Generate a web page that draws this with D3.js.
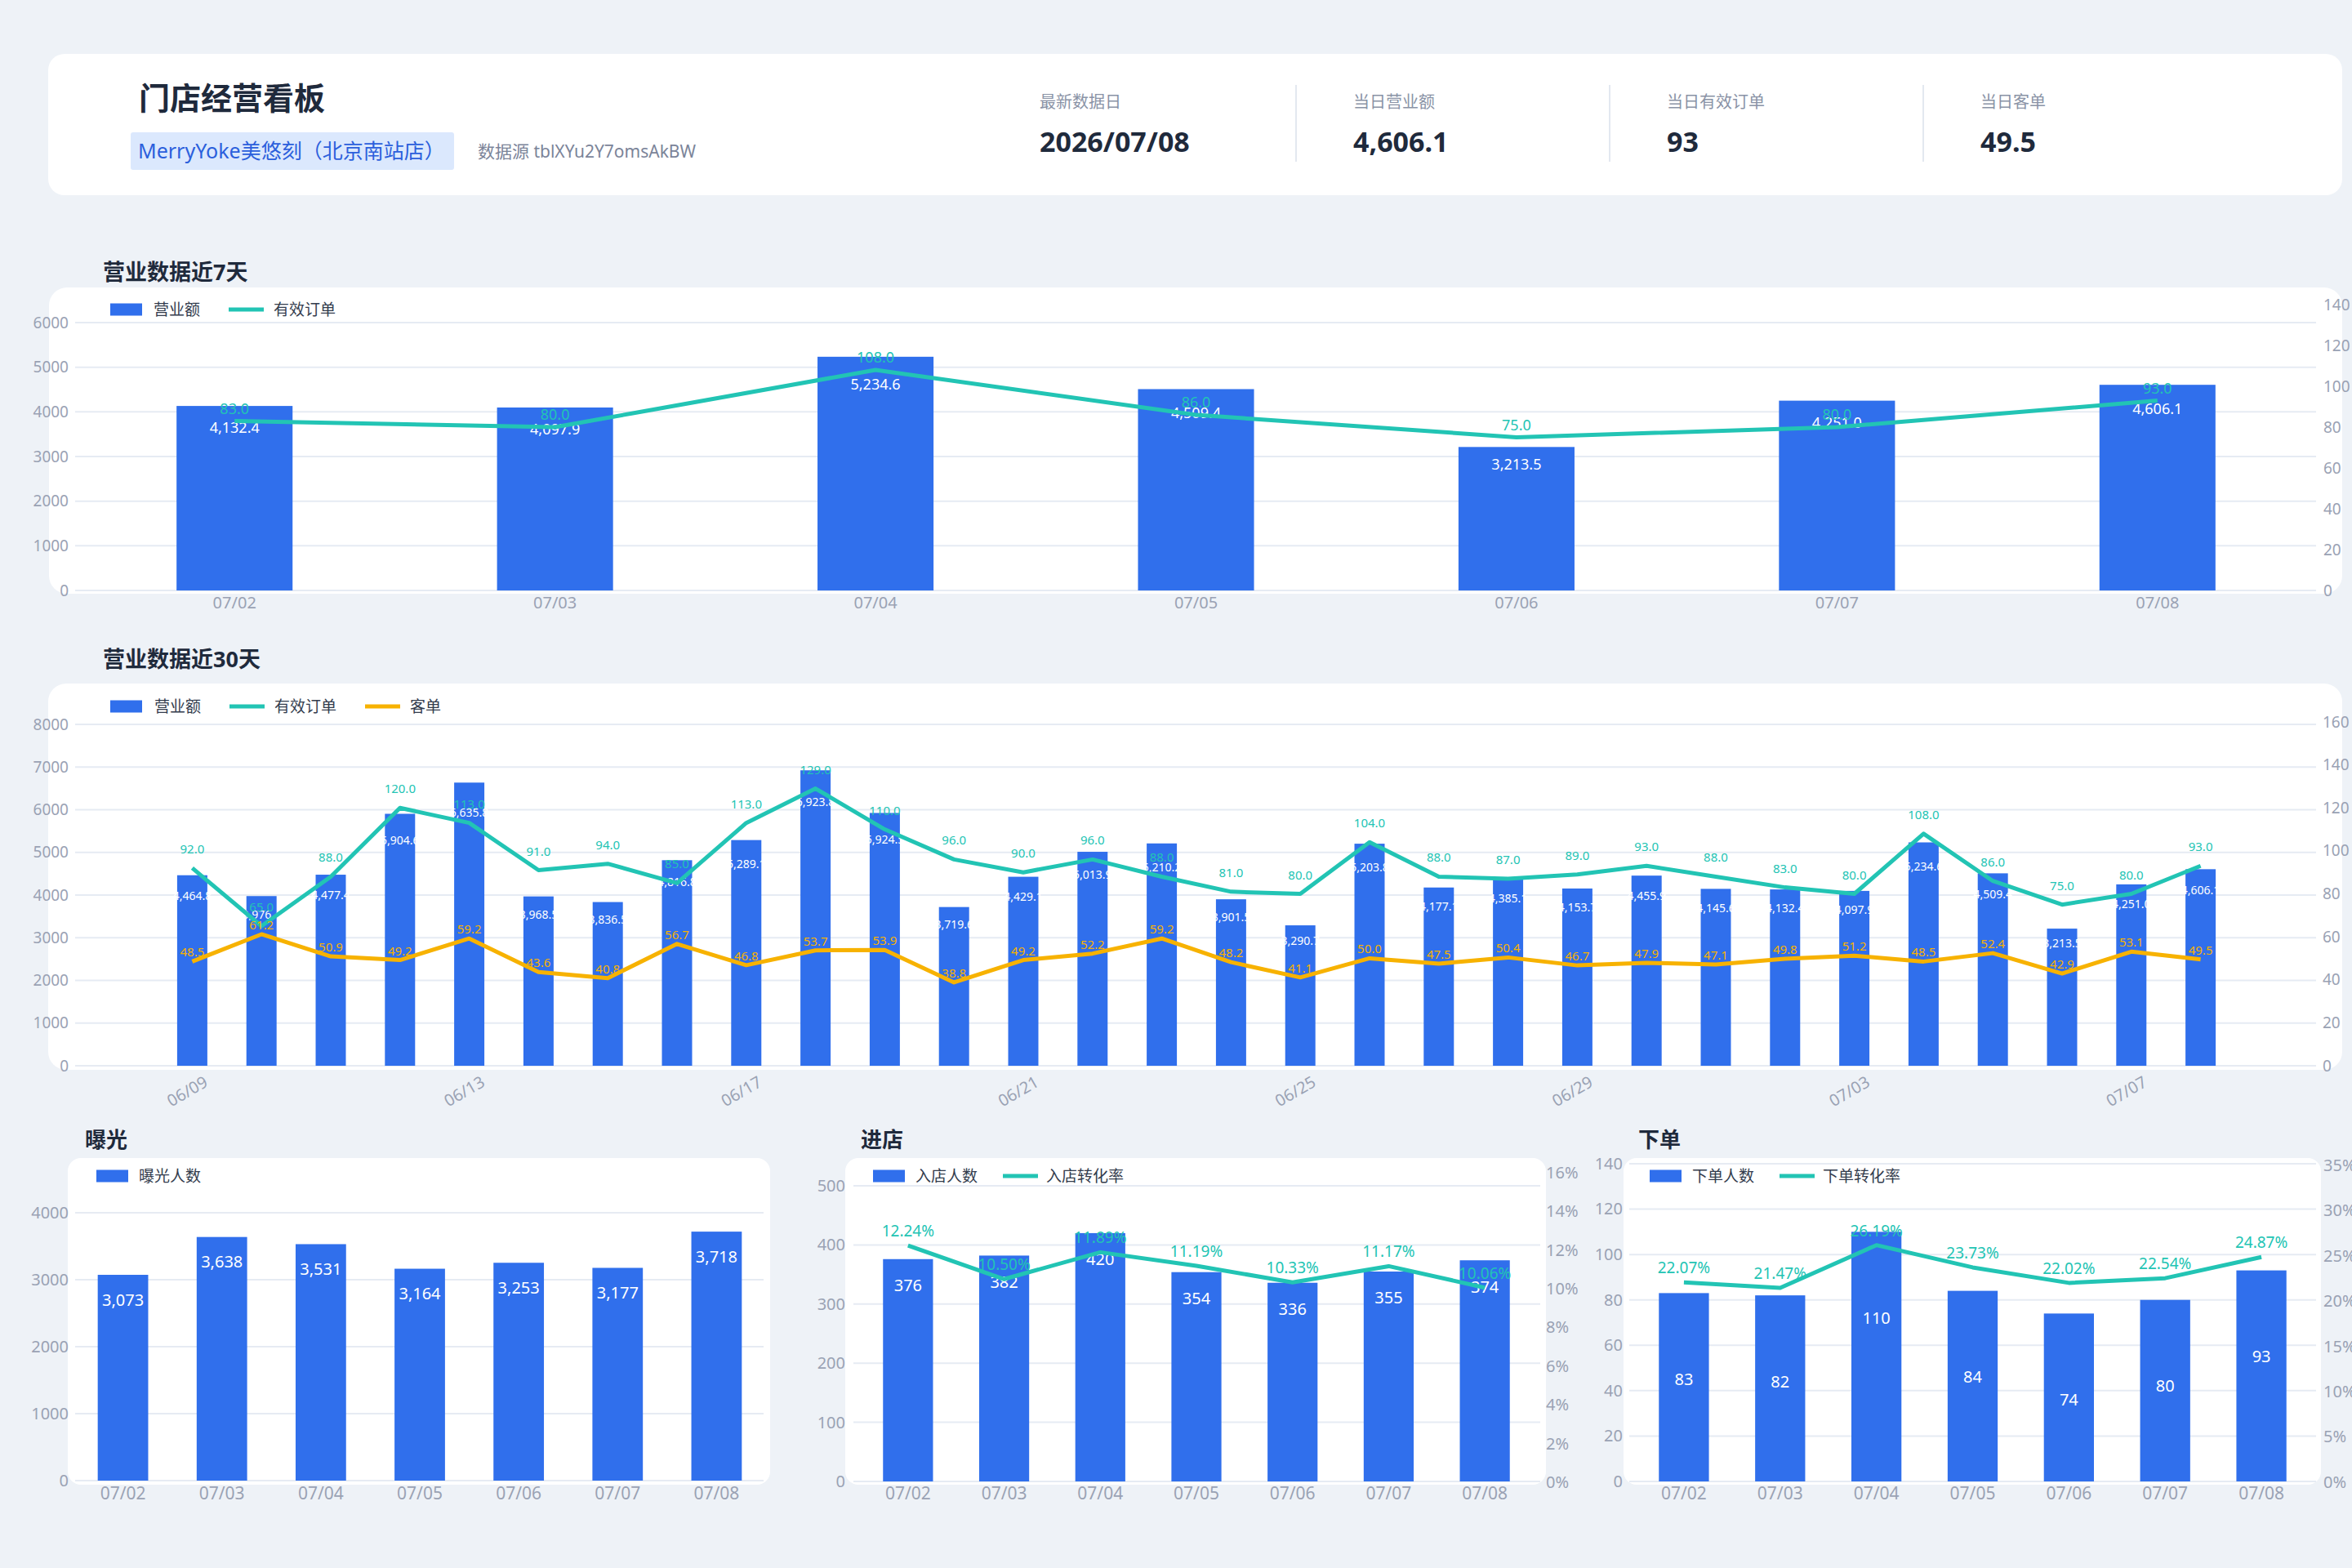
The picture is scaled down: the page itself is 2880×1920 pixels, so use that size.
<!DOCTYPE html>
<html>
<head>
<meta charset="utf-8">
<script src="https://cdn.jsdelivr.net/npm/d3@7"></script>
<style>
  body { margin: 0; background: #eef2f7; }
</style>
</head>
<body>
<div id="dash"></div>
<script>
// ---- data ----
const kpiLabels = ["最新数据日", "当日营业额", "当日有效订单", "当日客单"]
const kpiValues = ["2026/07/08", "4,606.1", "93", "49.5"]

const days7 = ["07/02", "07/03", "07/04", "07/05", "07/06", "07/07", "07/08"]
const revenue7 = [4132.4, 4097.9, 5234.6, 4509.4, 3213.5, 4251.0, 4606.1]
const orders7 = [83, 80, 108, 86, 75, 80, 93]

const days30 = ["06/09", "06/10", "06/11", "06/12", "06/13", "06/14", "06/15", "06/16", "06/17", "06/18",
  "06/19", "06/20", "06/21", "06/22", "06/23", "06/24", "06/25", "06/26", "06/27", "06/28",
  "06/29", "06/30", "07/01", "07/02", "07/03", "07/04", "07/05", "07/06", "07/07", "07/08"]
const revenue30 = [4464.8, 3976.4, 4477.4, 5904.6, 6635.8, 3968.5, 3836.5, 4816.8, 5289.1, 6923.8,
  5924.5, 3719.6, 4429.1, 5013.9, 5210.2, 3901.5, 3290.7, 5203.8, 4177.1, 4385.1,
  4153.7, 4455.9, 4145.6, 4132.4, 4097.9, 5234.6, 4509.4, 3213.5, 4251.0, 4606.1]
const orders30 = [92, 65, 88, 120, 113, 91, 94, 85, 113, 129,
  110, 96, 90, 96, 88, 81, 80, 104, 88, 87,
  89, 93, 88, 83, 80, 108, 86, 75, 80, 93]
const ticket30 = [48.5, 61.2, 50.9, 49.2, 59.2, 43.6, 40.8, 56.7, 46.8, 53.7,
  53.9, 38.8, 49.2, 52.2, 59.2, 48.2, 41.1, 50.0, 47.5, 50.4,
  46.7, 47.9, 47.1, 49.8, 51.2, 48.5, 52.4, 42.9, 53.1, 49.5]

const exposure = [3073, 3638, 3531, 3164, 3253, 3177, 3718]
const visitors = [376, 382, 420, 354, 336, 355, 374]
const visitRate = [12.24, 10.50, 11.89, 11.19, 10.33, 11.17, 10.06]
const buyers = [83, 82, 110, 84, 74, 80, 93]
const buyRate = [22.07, 21.47, 26.19, 23.73, 22.02, 22.54, 24.87]

const ticksRevenue7 = [0, 1000, 2000, 3000, 4000, 5000, 6000]
const ticksOrders7 = [0, 20, 40, 60, 80, 100, 120, 140]
const ticksRevenue30 = [0, 1000, 2000, 3000, 4000, 5000, 6000, 7000, 8000]
const ticksOrders30 = [0, 20, 40, 60, 80, 100, 120, 140, 160]
const ticksExposure = [0, 1000, 2000, 3000, 4000]
const ticksVisitors = [0, 100, 200, 300, 400, 500]
const ticksVisitRate = [0, 2, 4, 6, 8, 10, 12, 14, 16]
const ticksBuyers = [0, 20, 40, 60, 80, 100, 120, 140]
const ticksBuyRate = [0, 5, 10, 15, 20, 25, 30, 35]

// ---- style ----
const FONT = '"Noto Sans", "Noto Sans CJK SC", sans-serif'
const BLUE = "#306fec", TEAL = "#22c4b4", ORANGE = "#f7b200"
const GRID = "#e6ebf3", AXIS = "#9aa2b4", DARK = "#1f2a3c"

const svg = d3.select("#dash").append("svg")
  .attr("width", 2880).attr("height", 1920)
  .style("font-family", FONT)

svg.append("rect").attr("width", 2880).attr("height", 1920).attr("fill", "#eef2f7")

function card(x, y, w, h, r) {
  svg.append("rect").attr("x", x).attr("y", y).attr("width", w).attr("height", h)
    .attr("rx", r).attr("fill", "#fff")
}

function text(x, y, str, size, color, weight) {
  return svg.append("text").attr("x", x).attr("y", y).text(str)
    .attr("font-size", size).attr("fill", color).attr("font-weight", weight || 400)
}

// ---- header ----
card(59, 66, 2809, 173, 20)
text(170, 134, "门店经营看板", 38, DARK, 700)
svg.append("rect").attr("x", 160).attr("y", 162).attr("width", 396).attr("height", 46)
  .attr("rx", 3).attr("fill", "#dbe8fd")
text(169, 194, "MerryYoke美悠刻（北京南站店）", 25, "#2b5fdc")
text(585, 193, "数据源 tblXYu2Y7omsAkBW", 21, "#7b8499")

kpiLabels.forEach(function(lab, i) {
  const x0 = 1273 + i * 384
  text(x0, 132, lab, 20, "#8a93a6")
  text(x0, 186, kpiValues[i], 34, DARK, 700)
  if (i > 0) {
    svg.append("line").attr("x1", x0 - 70).attr("x2", x0 - 70).attr("y1", 104).attr("y2", 198)
      .attr("stroke", "#e3e8f0").attr("stroke-width", 2)
  }
})

// ---- legend ----
function legend(y, items) {
  items.forEach(function(it) {
    if (it.type == "rect") {
      svg.append("rect").attr("x", it.x).attr("y", y - 7.5).attr("width", 39).attr("height", 15)
        .attr("fill", it.color)
    } else {
      svg.append("line").attr("x1", it.x).attr("x2", it.x + 43).attr("y1", y).attr("y2", y)
        .attr("stroke", it.color).attr("stroke-width", 5)
    }
    text(it.tx, y, it.label, 19, "#333c4d").attr("dominant-baseline", "central")
  })
}

// ---- combo chart (bars + lines, dual axis) ----
function combo(o) {
  const g = svg.append("g")
  const x = d3.scaleBand().domain(o.cats).range(o.xRange)
  const yL = d3.scaleLinear().domain([0, d3.max(o.yL.ticks)]).range(o.yL.range)
  const yR = o.yR ? d3.scaleLinear().domain([0, d3.max(o.yR.ticks)]).range(o.yR.range) : null
  const cx = function(i) { return x(o.cats[i]) + x.bandwidth() / 2 }

  g.selectAll(".grid").data(o.yL.ticks).join("line")
    .attr("x1", o.grid[0]).attr("x2", o.grid[1])
    .attr("y1", d => yL(d)).attr("y2", d => yL(d))
    .attr("stroke", GRID).attr("stroke-width", 2)

  const axL = g.append("g").attr("transform", `translate(${o.yL.labelX},0)`)
    .call(d3.axisLeft(yL).tickValues(o.yL.ticks).tickSize(0).tickPadding(0).tickFormat(d3.format("d")))
  axL.select(".domain").remove()
  axL.attr("font-size", o.axisSize).attr("font-family", FONT)
  axL.selectAll("text").attr("fill", AXIS)

  if (yR) {
    const axR = g.append("g").attr("transform", `translate(${o.yR.labelX},0)`)
      .call(d3.axisRight(yR).tickValues(o.yR.ticks).tickSize(0).tickPadding(0)
        .tickFormat(d => d + (o.yR.pct ? "%" : "")))
    axR.select(".domain").remove()
    axR.attr("font-size", o.axisSize).attr("font-family", FONT)
    axR.selectAll("text").attr("fill", AXIS)
  }

  // x axis
  const axX = g.append("g").attr("transform", `translate(0,${o.yL.range[0]})`)
    .call(d3.axisBottom(x).tickSize(0).tickValues(o.xTicks || o.cats))
  axX.select(".domain").remove()
  axX.attr("font-size", o.xSize).attr("font-family", FONT)
  axX.selectAll("text").attr("fill", AXIS)
  if (o.rotate) {
    axX.selectAll("text").attr("x", 0).attr("y", 0).attr("dy", "0.35em")
      .attr("text-anchor", "end")
      .attr("transform", "translate(17,18) rotate(-30)")
  } else {
    axX.selectAll("text").attr("y", o.xLabelDy).attr("dy", "0.35em")
  }

  // bars
  const bw = x.bandwidth() * o.barRatio
  g.selectAll(".bar").data(o.bars).join("rect")
    .attr("x", (d, i) => cx(i) - bw / 2)
    .attr("width", bw)
    .attr("y", d => yL(d))
    .attr("height", d => yL(0) - yL(d))
    .attr("fill", BLUE)

  g.selectAll(".barlab").data(o.bars).join("text")
    .attr("x", (d, i) => cx(i))
    .attr("y", d => yL(d) + o.barLabelOffset(yL(0) - yL(d)))
    .attr("text-anchor", "middle").attr("dominant-baseline", "central")
    .attr("font-size", o.barLabelSize).attr("fill", "#fff")
    .text(o.barFmt)

  // lines
  const lineGen = d3.line().x((d, i) => cx(i)).y(d => yR(d))
  o.lines.forEach(function(s) {
    g.append("path").attr("d", lineGen(s.values))
      .attr("fill", "none").attr("stroke", s.color).attr("stroke-width", 5)
      .attr("stroke-linejoin", "round")
  })
  o.lines.forEach(function(s) {
    g.selectAll(null).data(s.values).join("text")
      .attr("x", (d, i) => cx(i))
      .attr("y", d => yR(d) - s.labelUp)
      .attr("text-anchor", "middle").attr("dominant-baseline", "central")
      .attr("font-size", o.lineLabelSize).attr("fill", s.color)
      .text(s.fmt)
  })
}

// ---- 7 days ----
text(126, 343, "营业数据近7天", 27, DARK, 700)
card(60, 352, 2808, 375, 22)
legend(379, [
  { type: "rect", x: 135, color: BLUE, label: "营业额", tx: 188 },
  { type: "line", x: 280, color: TEAL, label: "有效订单", tx: 335 }
])
combo({
  cats: days7, xRange: [91, 2838], barRatio: 0.362, grid: [92, 2836],
  yL: { ticks: ticksRevenue7, range: [723, 395], labelX: 84 },
  yR: { ticks: ticksOrders7, range: [723, 373], labelX: 2845 },
  axisSize: 19, xSize: 20, xLabelDy: 15,
  bars: revenue7, barFmt: d3.format(",.1f"), barLabelSize: 18,
  barLabelOffset: h => h * 0.115,
  lines: [{ values: orders7, color: TEAL, labelUp: 16, fmt: d3.format(".1f") }],
  lineLabelSize: 18
})

// ---- 30 days ----
text(126, 817, "营业数据近30天", 27, DARK, 700)
card(59, 837, 2809, 473, 22)
legend(865, [
  { type: "rect", x: 135, color: BLUE, label: "营业额", tx: 189 },
  { type: "line", x: 281, color: TEAL, label: "有效订单", tx: 336 },
  { type: "line", x: 447, color: ORANGE, label: "客单", tx: 502 }
])
combo({
  cats: days30, xRange: [193, 2737], barRatio: 0.436, grid: [92, 2836],
  yL: { ticks: ticksRevenue30, range: [1305, 887], labelX: 84 },
  yR: { ticks: ticksOrders30, range: [1305, 884], labelX: 2844 },
  axisSize: 19, xSize: 20, rotate: true,
  xTicks: days30.filter((d, i) => i % 4 == 0),
  bars: revenue30, barFmt: d3.format(",.1f"), barLabelSize: 14,
  barLabelOffset: h => h * 0.105,
  lines: [
    { values: orders30, color: TEAL, labelUp: 24, fmt: d3.format(".1f") },
    { values: ticket30, color: ORANGE, labelUp: 12, fmt: d3.format(".1f") }
  ],
  lineLabelSize: 15
})

// ---- bottom row ----
const pct = d => d3.format(".2f")(d) + "%"

text(104, 1405, "曝光", 26, DARK, 700)
card(83, 1418, 860, 400, 16)
legend(1440, [{ type: "rect", x: 118, color: BLUE, label: "曝光人数", tx: 170 }])
combo({
  cats: days7, xRange: [90, 938], barRatio: 0.51, grid: [92, 935],
  yL: { ticks: ticksExposure, range: [1813, 1485], labelX: 84 },
  axisSize: 20, xSize: 21, xLabelDy: 16,
  bars: exposure, barFmt: d3.format(","), barLabelSize: 20,
  barLabelOffset: h => 30,
  lines: [], lineLabelSize: 19
})

text(1054, 1405, "进店", 26, DARK, 700)
card(1035, 1418, 858, 400, 16)
legend(1440, [
  { type: "rect", x: 1069, color: BLUE, label: "入店人数", tx: 1121 },
  { type: "line", x: 1228, color: TEAL, label: "入店转化率", tx: 1281 }
])
combo({
  cats: days7, xRange: [1053, 1877], barRatio: 0.52, grid: [1045, 1886],
  yL: { ticks: ticksVisitors, range: [1814, 1452], labelX: 1035 },
  yR: { ticks: ticksVisitRate, range: [1815, 1436], labelX: 1893, pct: true },
  axisSize: 20, xSize: 21, xLabelDy: 15,
  bars: visitors, barFmt: d3.format("d"), barLabelSize: 20,
  barLabelOffset: h => 32,
  lines: [{ values: visitRate, color: TEAL, labelUp: 18, fmt: pct }],
  lineLabelSize: 19
})

text(2006, 1405, "下单", 26, DARK, 700)
card(1988, 1418, 854, 400, 16)
legend(1440, [
  { type: "rect", x: 2020, color: BLUE, label: "下单人数", tx: 2072 },
  { type: "line", x: 2179, color: TEAL, label: "下单转化率", tx: 2232 }
])
combo({
  cats: days7, xRange: [2003, 2828], barRatio: 0.52, grid: [1995, 2836],
  yL: { ticks: ticksBuyers, range: [1814, 1425], labelX: 1987 },
  yR: { ticks: ticksBuyRate, range: [1815, 1427], labelX: 2845, pct: true },
  axisSize: 20, xSize: 21, xLabelDy: 15,
  bars: buyers, barFmt: d3.format("d"), barLabelSize: 20,
  barLabelOffset: h => 105,
  lines: [{ values: buyRate, color: TEAL, labelUp: 18, fmt: pct }],
  lineLabelSize: 19
})
</script>
</body>
</html>
